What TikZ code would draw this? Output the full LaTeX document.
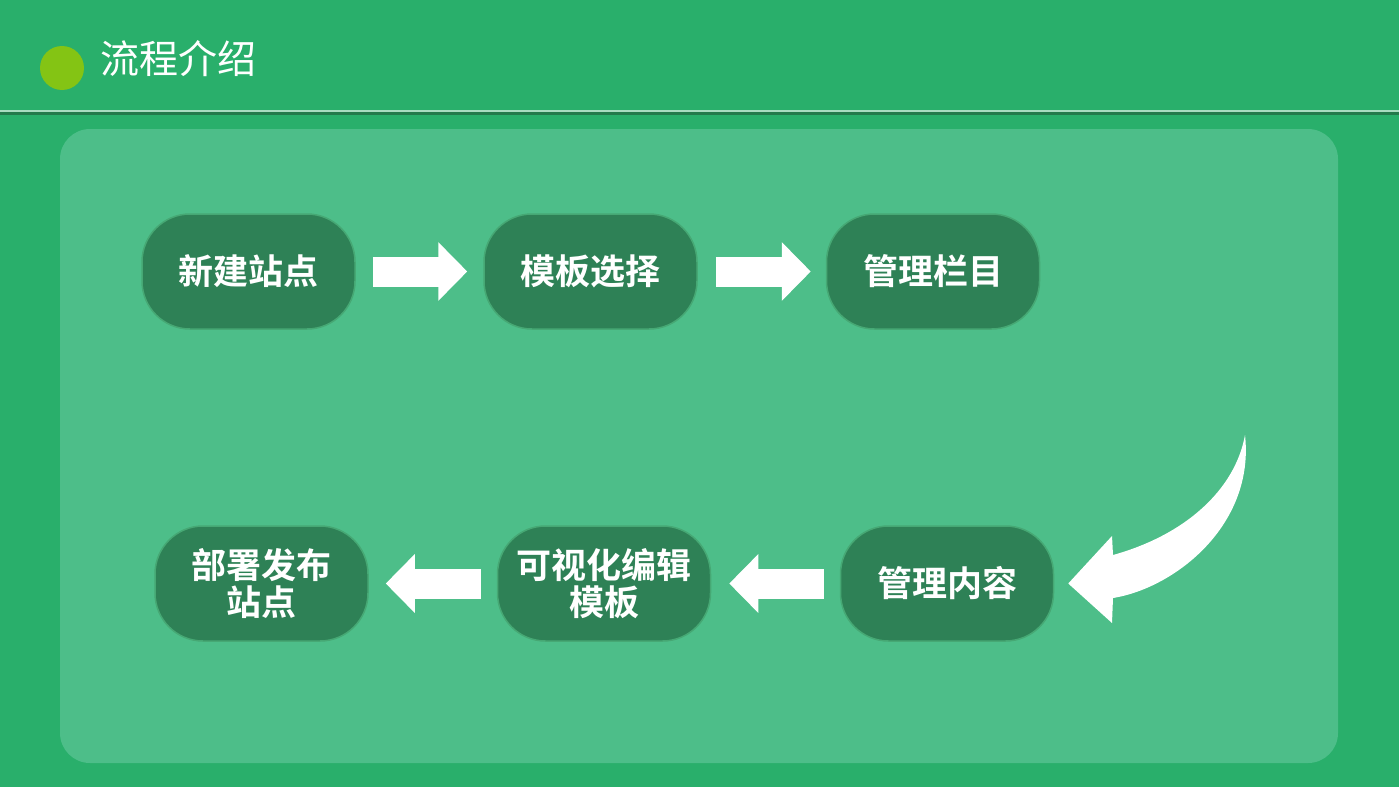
\documentclass[tikz,border=0pt]{standalone}
\usepackage{fontspec}
\newfontfamily\cjk{Noto Sans CJK SC}
\newfontfamily\cjkb{Noto Sans CJK SC Bold}
\usetikzlibrary{arrows.meta}
\definecolor{bgc}{RGB}{41,175,107}
\definecolor{panelc}{RGB}{77,190,137}
\definecolor{nodec}{RGB}{46,129,86}
\definecolor{nodeedge}{RGB}{70,168,116}
\definecolor{dotc}{RGB}{132,196,20}
\definecolor{linelight}{RGB}{168,220,192}
\definecolor{linedark}{RGB}{35,122,75}
\tikzset{
  stepbox/.style={draw=nodeedge, line width=1.5pt, fill=nodec, rounded corners=48pt,
    minimum width=213pt, minimum height=115pt, inner sep=0pt, text=white,
    font=\cjkb\fontsize{35}{37}\selectfont, align=center},
  blockarrow/.style={draw=white, line width=30pt, -{Triangle[length=29pt,width=57pt]}}
}
\begin{document}
\begin{tikzpicture}[x=1pt,y=-1pt]
\useasboundingbox (0,0) rectangle (1399,787);
\fill[bgc] (0,0) rectangle (1399,787);
% header
\fill[linelight] (0,109.5) rectangle (1399,112);
\fill[linedark] (0,112) rectangle (1399,115);
\fill[dotc] (62,68) circle (22);
\node[anchor=west, text=white, inner sep=0pt, font=\cjk\fontsize{39}{41}\selectfont] (title) at (100,59) {流程介绍};
% panel
\fill[panelc, rounded corners=30pt] (60,129) rectangle (1338,763);
% nodes
\node[stepbox] (n1) at (248.5,271.5) {新建站点};
\node[stepbox] (n2) at (590.5,271.5) {模板选择};
\node[stepbox] (n3) at (933,271.5) {管理栏目};
\node[stepbox] (n4) at (947,583.5) {管理内容};
\node[stepbox] (n5) at (604,583.5) {可视化编辑\\模板};
\node[stepbox] (n6) at (261.5,583.5) {部署发布\\站点};
% straight arrows
\draw[blockarrow] ([xshift=17pt]n1.east) -- ([xshift=-16pt]n2.west);
\draw[blockarrow] ([xshift=18pt]n2.east) -- ([xshift=-15pt]n3.west);
\draw[blockarrow] ([xshift=-16pt]n4.west) -- ([xshift=18pt]n5.east);
\draw[blockarrow] ([xshift=-16pt]n5.west) -- ([xshift=17pt]n6.east);
% curved arrow
\coordinate (ctip) at ([xshift=14pt]n4.east);
\fill[white] (1245,435) .. controls (1255,525) and (1175,588) .. (1113,598)
  -- (1112,623) -- (ctip) -- (1112,536) -- (1113,555)
  .. controls (1185,535) and (1235,490) .. (1245,435) -- cycle;
\end{tikzpicture}
\end{document}
